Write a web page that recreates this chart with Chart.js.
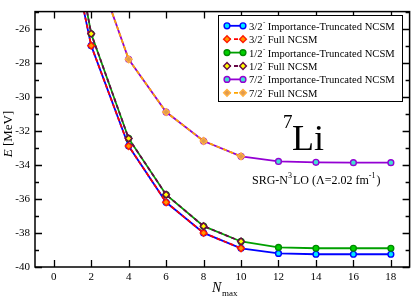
<!DOCTYPE html>
<html>
<head>
<meta charset="utf-8">
<script src="https://cdn.jsdelivr.net/npm/chart.js@4/dist/chart.umd.min.js"></script>
<style>
html,body{margin:0;padding:0;background:#fff;}
canvas{display:block;}
</style>
</head>
<body>
<canvas id="c" width="415" height="298"></canvas>
<script>
// ---- data ----
const nmaxIT = [0, 2, 4, 6, 8, 10, 12, 14, 16, 18];
const nmaxFull = [0, 2, 4, 6, 8, 10];
const nmax72IT = [2, 4, 6, 8, 10, 12, 14, 16, 18];
const nmax72Full = [2, 4, 6, 8, 10];
const e32IT = [-16.5, -27.0, -32.9, -36.2, -38.0, -38.9, -39.2, -39.25, -39.25, -39.25];
const e32Full = [-16.5, -27.0, -32.9, -36.2, -38.0, -38.9];
const e12IT = [-14.5, -26.3, -32.45, -35.75, -37.6, -38.5, -38.85, -38.9, -38.9, -38.9];
const e12Full = [-14.5, -26.3, -32.45, -35.75, -37.6, -38.5];
const e72IT = [-21.6, -27.8, -30.9, -32.6, -33.5, -33.8, -33.85, -33.87, -33.87];
const e72Full = [-21.6, -27.8, -30.9, -32.6, -33.5];
const xTicks = [0, 2, 4, 6, 8, 10, 12, 14, 16, 18];
const yTicks = [-40, -38, -36, -34, -32, -30, -28, -26];
const yMinorTicks = [-39, -37, -35, -33, -31, -29, -27, -25];
const seriesLabels = [
  ['3/2', ' Importance-Truncated NCSM'],
  ['3/2', ' Full NCSM'],
  ['1/2', ' Importance-Truncated NCSM'],
  ['1/2', ' Full NCSM'],
  ['7/2', ' Importance-Truncated NCSM'],
  ['7/2', ' Full NCSM']
];

const SERIF = "'Liberation Serif', 'Times New Roman', serif";
const pts = (xs, ys) => xs.map((x, i) => ({x: x, y: ys[i]}));

function ds(idx, xs, ys, line, border, fill, full, order) {
  return {
    label: seriesLabels[idx][0] + '\u207B' + seriesLabels[idx][1],
    data: pts(xs, ys),
    borderColor: line,
    borderWidth: 1.8,
    borderDash: full ? [4, 3] : [],
    pointStyle: full ? 'rectRot' : 'circle',
    pointRadius: full ? 3.4 : 2.9,
    pointBorderWidth: 1.4,
    pointBorderColor: border,
    pointBackgroundColor: fill,
    backgroundColor: fill,
    tension: 0,
    fill: false,
    order: order
  };
}

const datasets = [
  ds(0, nmaxIT, e32IT, '#0000ff', '#0000ff', '#00e8ff', false, 5),
  ds(1, nmaxFull, e32Full, '#ff0000', '#ff1a00', '#ff9900', true, 1),
  ds(2, nmaxIT, e12IT, '#00a000', '#008a00', '#00d000', false, 4),
  ds(3, nmaxFull, e12Full, '#670748', '#670748', '#ffff00', true, 0),
  ds(4, nmax72IT, e72IT, '#9400d3', '#9400d3', '#40e0d0', false, 3),
  ds(5, nmax72Full, e72Full, '#ffa500', '#ffb040', '#e09a50', true, 2)
];

function drawMarker(ctx, d, x, y) {
  ctx.save();
  ctx.lineWidth = d.pointBorderWidth;
  ctx.strokeStyle = d.pointBorderColor;
  ctx.fillStyle = d.pointBackgroundColor;
  ctx.setLineDash([]);
  ctx.beginPath();
  const r = d.pointRadius;
  if (d.pointStyle === 'circle') {
    ctx.arc(x, y, r, 0, Math.PI * 2);
  } else {
    ctx.moveTo(x, y - r); ctx.lineTo(x + r, y); ctx.lineTo(x, y + r); ctx.lineTo(x - r, y); ctx.closePath();
  }
  ctx.fill(); ctx.stroke();
  ctx.restore();
}

const decor = {
  id: 'decor',
  afterDraw(chart) {
    const ctx = chart.ctx;
    const {left, right, top, bottom} = chart.chartArea;
    const xs = chart.scales.x, ys = chart.scales.y;
    ctx.save();
    // frame
    ctx.strokeStyle = '#000';
    ctx.lineWidth = 1.5;
    ctx.strokeRect(left, top, right - left, bottom - top);
    // ticks
    ctx.lineWidth = 1.3;
    ctx.beginPath();
    xTicks.forEach(v => {
      const p = Math.round(xs.getPixelForValue(v)) + 0.5;
      ctx.moveTo(p, bottom); ctx.lineTo(p, bottom - 7);
      ctx.moveTo(p, top); ctx.lineTo(p, top + 7);
    });
    yTicks.forEach(v => {
      const p = Math.round(ys.getPixelForValue(v)) + 0.5;
      ctx.moveTo(left, p); ctx.lineTo(left + 7, p);
      ctx.moveTo(right, p); ctx.lineTo(right - 7, p);
    });
    yMinorTicks.forEach(v => {
      const p = Math.round(ys.getPixelForValue(v)) + 0.5;
      ctx.moveTo(left, p); ctx.lineTo(left + 4, p);
      ctx.moveTo(right, p); ctx.lineTo(right - 4, p);
    });
    ctx.stroke();

    // legend box
    const lx = 218, ly = 15.5, lw = 184, lh = 86;
    ctx.fillStyle = '#fff';
    ctx.fillRect(lx, ly, lw, lh);
    ctx.lineWidth = 1;
    ctx.strokeStyle = '#000';
    ctx.strokeRect(lx + 0.5, ly, lw, lh);
    // legend font size chosen so the longest entry spans ~146px
    ctx.font = '12px ' + SERIF;
    const longest = ctx.measureText(seriesLabels[0][0]).width + 3 + ctx.measureText(seriesLabels[0][1]).width;
    const fs = Math.min(12, 12 * 146 / longest);
    chart.data.datasets.forEach((d, i) => {
      const y = 25.8 + i * 13.4;
      const x1 = 227, x2 = 243;
      ctx.save();
      ctx.strokeStyle = d.borderColor;
      ctx.lineWidth = d.borderWidth;
      ctx.setLineDash(d.borderDash);
      ctx.beginPath(); ctx.moveTo(x1, y); ctx.lineTo(x2, y); ctx.stroke();
      ctx.restore();
      drawMarker(ctx, d, x1, y);
      drawMarker(ctx, d, x2, y);
      ctx.fillStyle = '#000';
      ctx.textBaseline = 'alphabetic';
      ctx.textAlign = 'left';
      ctx.font = fs + 'px ' + SERIF;
      let tx = 249;
      const by = y + 4;
      ctx.fillText(seriesLabels[i][0], tx, by);
      tx += ctx.measureText(seriesLabels[i][0]).width;
      ctx.font = '7px ' + SERIF;
      ctx.fillText('-', tx + 0.5, by - 6);
      tx += 2.5;
      ctx.font = fs + 'px ' + SERIF;
      ctx.fillText(seriesLabels[i][1], tx, by);
    });

    // 7Li label
    ctx.fillStyle = '#000';
    ctx.textAlign = 'left';
    ctx.font = '19px ' + SERIF;
    ctx.fillText('7', 283, 128);
    ctx.font = '36px ' + SERIF;
    ctx.fillText('Li', 292, 150);

    // SRG label
    let sx = 252; const sy = 184;
    const parts = [['SRG-N', 0], ['3', 1], ['LO (\u039B=2.02 fm', 0], ['-1', 1], [')', 0]];
    parts.forEach(([t, sup]) => {
      ctx.font = (sup ? '8px ' : '12px ') + SERIF;
      ctx.fillText(t, sx, sup ? sy - 6 : sy);
      sx += ctx.measureText(t).width + (sup ? 1 : 0);
    });

    // axis titles
    ctx.save();
    ctx.translate(12, 134);
    ctx.rotate(-Math.PI / 2);
    ctx.textAlign = 'left';
    ctx.font = 'italic 13px ' + SERIF;
    const wE = ctx.measureText('E').width;
    ctx.font = '13px ' + SERIF;
    const wR = ctx.measureText(' [MeV]').width;
    const start = -(wE + wR) / 2;
    ctx.font = 'italic 13px ' + SERIF;
    ctx.fillText('E', start, 0);
    ctx.font = '13px ' + SERIF;
    ctx.fillText(' [MeV]', start + wE, 0);
    ctx.restore();

    ctx.font = 'italic 14px ' + SERIF;
    ctx.fillText('N', 212, 292);
    ctx.font = '9px ' + SERIF;
    ctx.fillText('max', 222, 296);
    ctx.restore();
  }
};

new Chart(document.getElementById('c'), {
  type: 'line',
  data: {datasets: datasets},
  options: {
    responsive: false,
    animation: false,
    devicePixelRatio: 1,
    layout: {padding: {top: 1, right: 1, left: 0, bottom: 0}},
    plugins: {legend: {display: false}, tooltip: {enabled: false}},
    scales: {
      x: {
        type: 'linear', min: -1, max: 19,
        grid: {display: false, drawTicks: false},
        border: {display: false},
        ticks: {color: '#000', font: {family: SERIF, size: 11}, padding: 4, maxRotation: 0,
                callback: v => String(v)},
        afterBuildTicks: s => { s.ticks = xTicks.map(v => ({value: v})); },
        afterFit: s => { s.height = 31; }
      },
      y: {
        type: 'linear', min: -40, max: -25,
        grid: {display: false, drawTicks: false},
        border: {display: false},
        ticks: {color: '#000', font: {family: SERIF, size: 11}, padding: 5,
                callback: v => String(v)},
        afterBuildTicks: s => { s.ticks = yTicks.map(v => ({value: v})); },
        afterFit: s => { s.width = 35; }
      }
    }
  },
  plugins: [decor]
});
</script>
</body>
</html>
